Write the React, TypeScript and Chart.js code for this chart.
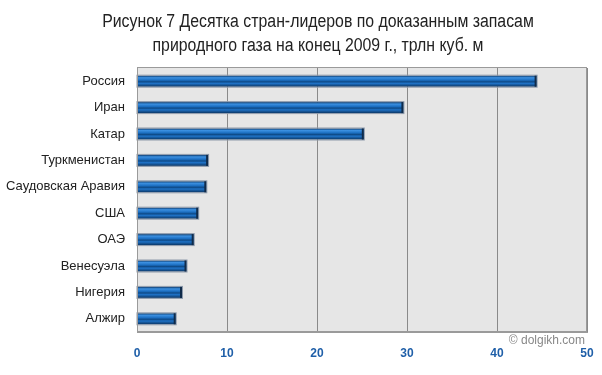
import React, { useEffect, useRef } from "react";
import { Chart, registerables } from "chart.js";

Chart.register(...registerables);

const categories = ["Россия", "Иран", "Катар", "Туркменистан", "Саудовская Аравия", "США", "ОАЭ", "Венесуэла", "Нигерия", "Алжир"];
const reserves = [44.4, 29.6, 25.2, 7.9, 7.7, 6.8, 6.3, 5.5, 5.0, 4.3];
const titleLines = ["Рисунок 7 Десятка стран-лидеров по доказанным запасам", "природного газа на конец 2009 г., трлн куб. м"];
const watermark = "© dolgikh.com";

const decor = {
  id: "decor",
  beforeDraw(chart: any) {
    const { ctx, chartArea: a } = chart;
    ctx.save();
    ctx.fillStyle = "#e6e6e6";
    ctx.fillRect(a.left, a.top, a.right - a.left, a.bottom - a.top);
    ctx.restore();
  },
  afterDatasetsDraw(chart: any) {
    const { ctx } = chart;
    const meta = chart.getDatasetMeta(0);
    ctx.save();
    meta.data.forEach((bar: any) => {
      const left = bar.base;
      const right = bar.x;
      const top = bar.y - bar.height / 2;
      const h = bar.height;
      const g = ctx.createLinearGradient(0, top, 0, top + h);
      g.addColorStop(0, "#0d3c6e");
      g.addColorStop(0.18, "#3b8fe0");
      g.addColorStop(0.4, "#1c6fc2");
      g.addColorStop(0.55, "#0e4a88");
      g.addColorStop(0.7, "#1f72c6");
      g.addColorStop(1, "#0b3563");
      ctx.fillStyle = g;
      ctx.fillRect(left, top, right - left, h);
      ctx.strokeStyle = "#8d99aa";
      ctx.lineWidth = 1;
      ctx.strokeRect(left - 0.5, top - 0.5, right - left + 1, h + 1);
      ctx.fillStyle = "#102b4a";
      ctx.fillRect(right - 2, top, 2, h);
    });
    ctx.restore();
  },
  afterDraw(chart: any) {
    const { ctx, chartArea: a } = chart;
    ctx.save();
    ctx.strokeStyle = "#9a9a9a";
    ctx.lineWidth = 1;
    ctx.strokeRect(Math.round(a.left) + 0.5, Math.round(a.top) - 0.5, a.right - a.left - 1, a.bottom - a.top);
    ctx.fillStyle = "#222";
    ctx.font = "18px 'Liberation Sans', Arial";
    ctx.textAlign = "center";
    ctx.textBaseline = "middle";
    ctx.save();
    ctx.translate(318, 0);
    ctx.scale(0.88, 1);
    ctx.fillText(titleLines[0], 0, 22);
    ctx.fillText(titleLines[1], 0, 46);
    ctx.restore();
    ctx.fillStyle = "#888";
    ctx.font = "12px 'Liberation Sans', Arial";
    ctx.textAlign = "right";
    ctx.fillText(watermark, a.right - 2, 341);
    ctx.restore();
  },
};

export default function App() {
  const ref = useRef<HTMLCanvasElement>(null);
  useEffect(() => {
    const chart = new Chart(ref.current!, {
      type: "bar",
      data: {
        labels: categories,
        datasets: [{ data: reserves, backgroundColor: "rgba(0,0,0,0)", borderWidth: 0, barThickness: 11 }],
      },
      plugins: [decor],
      options: {
        indexAxis: "y",
        animation: false,
        responsive: false,
        maintainAspectRatio: false,
        layout: { padding: { top: 68, right: 15, left: 0, bottom: 0 } },
        plugins: { legend: { display: false }, tooltip: { enabled: false } },
        scales: {
          x: {
            min: 0,
            max: 50,
            ticks: { stepSize: 10, color: "#1f5fa8", padding: 14, font: { family: "'Liberation Sans', Arial", size: 12, weight: "bold" } },
            grid: { color: "#8a8a8a", drawTicks: false, lineWidth: 1 },
            border: { display: true, color: "#9a9a9a" },
            afterFit(scale: any) { scale.height = 43; scale.paddingRight = 0; scale.paddingLeft = 0; },
          },
          y: {
            ticks: { color: "#222", padding: 12, font: { family: "'Liberation Sans', Arial", size: 13 } },
            grid: { display: false, drawTicks: false },
            border: { display: true, color: "#9a9a9a" },
            afterFit(scale: any) { scale.width = 137; },
          },
        },
      },
    });
    return () => chart.destroy();
  }, []);
  return (
    <div style={{ position: "fixed", left: 0, top: 0, width: 602, height: 375, background: "#fff" }}>
      <canvas ref={ref} width={602} height={375} style={{ width: 602, height: 375 }} />
    </div>
  );
}
